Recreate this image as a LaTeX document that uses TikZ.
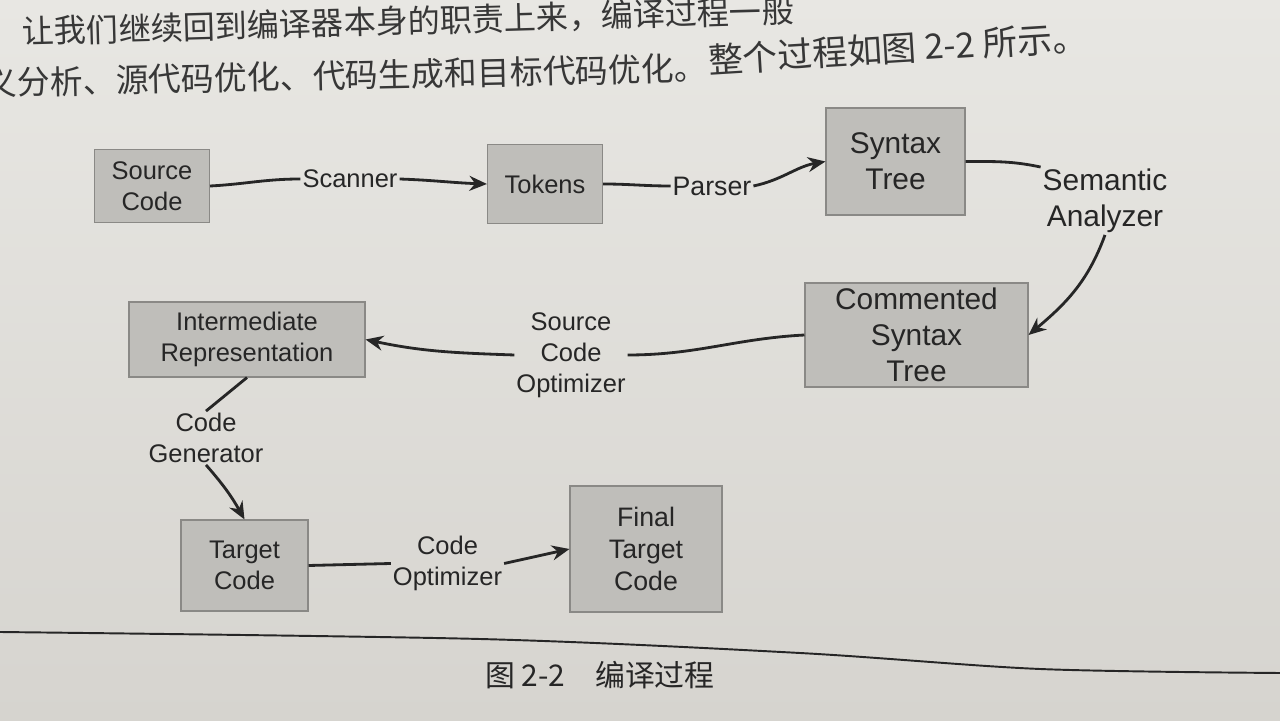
\documentclass[tikz,border=0pt]{standalone}
\usepackage{fontspec}
\setmainfont{Liberation Sans}
\newfontfamily\cjk{Noto Sans CJK SC}
\usetikzlibrary{positioning,arrows.meta,calc}
\definecolor{cpPaperTop}{RGB}{232,231,227}
\definecolor{cpPaperBot}{RGB}{214,212,207}
\definecolor{cpBox}{RGB}{191,190,186}
\definecolor{cpEdge}{RGB}{138,137,134}
\definecolor{cpInk}{RGB}{38,38,38}
\definecolor{cpPrint}{RGB}{55,55,55}

\begin{document}
\begin{tikzpicture}[>={Stealth[length=10pt,width=8.5pt]},
  fA/.style={font=\fontsize{14.5}{17.6}\selectfont},
  fB/.style={font=\fontsize{15.2}{18.4}\selectfont},
  fC/.style={font=\fontsize{17}{20.4}\selectfont},
  box/.style={rectangle, draw=cpEdge, line width=0.6pt, fill=cpBox, align=center, text=cpInk, inner sep=1pt},
  lbl/.style={align=center, text=cpInk, inner sep=1pt},
  conn/.style={draw=cpInk, line width=1.6pt},
  para/.style={anchor=west, inner sep=0pt, text=cpPrint}]
  \useasboundingbox (0,0) rectangle (25.6,14.4);
  \clip (0,0) rectangle (25.6,14.4);
  \shade[top color=cpPaperTop, bottom color=cpPaperBot] (0,0) rectangle (25.6,14.4);

  \node[para, rotate=1.6, font=\cjk\fontsize{18.3}{20}\selectfont] (para1) at (0.44,13.76) {让我们继续回到编译器本身的职责上来，编译过程一般};
  \node[para, rotate=1.2, font=\cjk\fontsize{18.7}{20}\selectfont] (para2) at (-0.32,12.74) {义分析、源代码优化、代码生成和目标代码优化。};
  \node[para, rotate=3.5, font=\cjk\fontsize{19.8}{22}\selectfont] (para3) at (14.16,13.2) {整个过程如图 2-2 所示。};

  \node[box, fA, minimum width=2.3cm, minimum height=1.46cm] (src) at (3.04,10.68) {Source\\Code};
  \node[lbl, fA] (scan) at (7.0,10.82) {Scanner};
  \node[box, fA, minimum width=2.3cm, minimum height=1.58cm] (tok) at (10.9,10.72) {Tokens};
  \node[lbl, fB] (pars) at (14.24,10.68) {Parser};
  \node[box, fC, minimum width=2.78cm, minimum height=2.14cm] (st) at (17.91,11.17) {Syntax\\Tree};
  \node[lbl, fC] (sem) at (22.1,10.38) {Semantic\\Analyzer};
  \node[box, fC, minimum width=4.46cm, minimum height=2.08cm] (cst) at (18.33,7.7) {Commented\\Syntax\\Tree};
  \node[lbl, fA] (sco) at (11.42,7.3) {Source\\Code\\Optimizer};
  \node[box, fA, minimum width=4.72cm, minimum height=1.5cm] (ir) at (4.94,7.61) {Intermediate\\Representation};
  \node[lbl, fA] (cg) at (4.12,5.64) {Code\\Generator};
  \node[box, fA, minimum width=2.54cm, minimum height=1.82cm] (tc) at (4.89,3.09) {Target\\Code};
  \node[lbl, fA] (co) at (8.95,3.13) {Code\\Optimizer};
  \node[box, fB, minimum width=3.04cm, minimum height=2.52cm] (ftc) at (12.92,3.42) {Final\\Target\\Code};

  \draw[conn] (src.east) to[out=3,in=180] (scan.west);
  \draw[conn,->] (scan.east) to[out=-2,in=178] (tok.west);
  \draw[conn] (tok.east) to[out=0,in=180] (pars.west);
  \draw[conn,->] (pars.east) to[out=12,in=-170] (st.west);
  \draw[conn] (st.east) to[out=0,in=168] (sem.north west);
  \draw[conn,->] (sem.south) to[out=-110,in=40] (cst.east);
  \draw[conn] (cst.west) to[out=183,in=0] (sco.east);
  \draw[conn,->] (sco.west) to[out=178,in=-12] (ir.east);
  \draw[conn] (ir.south) -- (cg.north);
  \draw[conn,->] (cg.south) to[bend left=6] (tc.north);
  \draw[conn] (tc.east) -- (co.west);
  \draw[conn,->] (co.east) -- (ftc.west);

  \draw[cpInk, line width=1.1pt] plot[smooth] coordinates {(0,1.76) (9.6,1.62) (16,1.34) (20.8,1.02) (25.6,0.94)};
  \node[text=cpInk, font=\cjk\fontsize{17}{20}\selectfont] (cap) at (12.0,0.9) {图 2-2\hspace{1em}编译过程};
\end{tikzpicture}
\end{document}
